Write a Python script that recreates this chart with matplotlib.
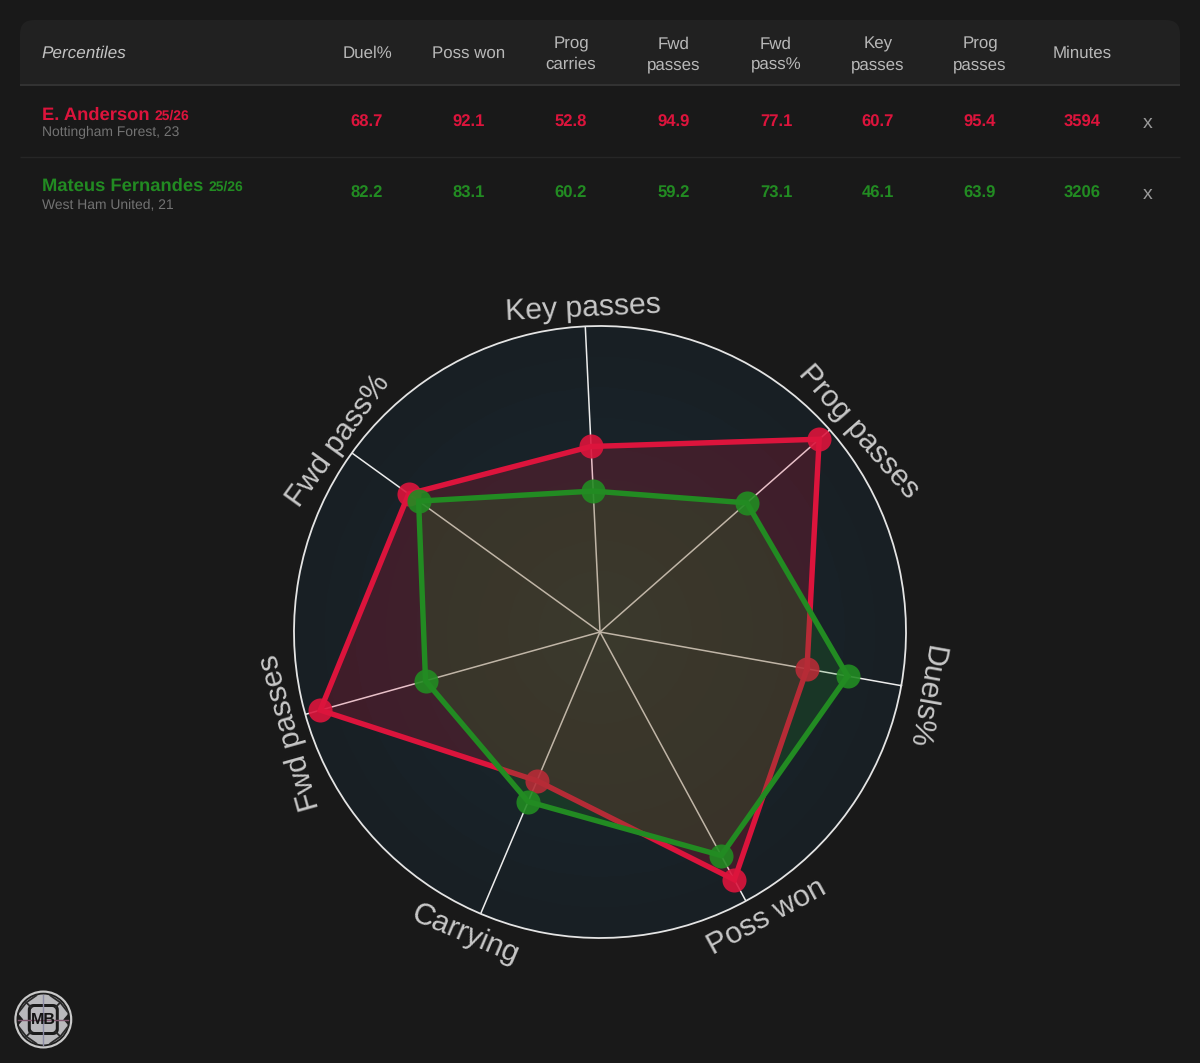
import numpy as np
import matplotlib
matplotlib.use('Agg')
import matplotlib.pyplot as plt
from matplotlib.patches import Circle, FancyBboxPatch, Rectangle, Polygon
from matplotlib.colors import LinearSegmentedColormap

plt.rcParams['font.family'] = ['Liberation Sans', 'DejaVu Sans']
plt.rcParams['text.hinting'] = 'none'

W, H = 1200, 1063
BG = '#191919'
RED = '#DC143C'
GREEN = '#228B22'

axis_labels = ['Duels%', 'Poss won', 'Carrying', 'Fwd passes', 'Fwd pass%', 'Key passes', 'Prog passes']
header_labels = ['Duel%', 'Poss won', 'Prog\ncarries', 'Fwd\npasses', 'Fwd\npass%', 'Key\npasses', 'Prog\npasses', 'Minutes']
red_values = [68.7, 92.1, 52.8, 94.9, 77.1, 60.7, 95.4]
green_values = [82.2, 83.1, 60.2, 59.2, 73.1, 46.1, 63.9]
red_minutes = 3594
green_minutes = 3206
players = [('E. Anderson', '25/26', 'Nottingham Forest, 23'), ('Mateus Fernandes', '25/26', 'West Ham United, 21')]

fig = plt.figure(figsize=(W / 100, H / 100), dpi=100, facecolor=BG)

# ---------- pixel overlay for the table ----------
tb = fig.add_axes([0, 0, 1, 1], zorder=1)
tb.set_xlim(0, W); tb.set_ylim(H, 0); tb.axis('off')

hdr = FancyBboxPatch((20, 20), 1160, 90, boxstyle='round,pad=0,rounding_size=14', fc='#212121', ec='none')
tb.add_patch(hdr)
hdr.set_clip_path(Rectangle((0, 0), W, 84, transform=tb.transData))
tb.plot([20, 1180], [84.5, 84.5], color='#333333', lw=1.4, solid_capstyle='butt')
tb.plot([20, 1180], [157, 157], color='#262626', lw=1.0, solid_capstyle='butt')

col_x = [367, 469, 571, 674, 776, 878, 980, 1082]
tb.text(41.5, 53, 'Percentiles', fontsize=12.3, style='italic', color='#c2c2c2', ha='left', va='center')
for x, lab in zip(col_x, header_labels):
    y = 54.5 if '\n' in lab else 53
    tb.text(x, y, lab, fontsize=12.2, color='#b8b8b8', ha='center', va='center', linespacing=1.36)

rows = [(RED, red_values, red_minutes, 115, 132.5, 122), (GREEN, green_values, green_minutes, 186.5, 204.5, 193.5)]
for (col, vals, mins, yn, ys, yv), (name, season, sub) in zip(rows, players):
    t = tb.text(42, yn, name, fontsize=13.2, fontweight='bold', color=col, ha='left', va='center')
    fig.canvas.draw()
    bb = t.get_window_extent()
    tb.text(bb.x1 + 5, yn + 1, season, fontsize=10, fontweight='bold', color=col, ha='left', va='center')
    tb.text(42, ys, sub, fontsize=10, color='#737373', ha='left', va='center')
    for x, v in zip(col_x, list(vals) + [mins]):
        tb.text(x, yv, str(v), fontsize=12, fontweight='bold', color=col, ha='center', va='center')
    tb.text(1148, yv + 1, 'x', fontsize=14, color='#9a9a9a', ha='center', va='center')

# ---------- logo ----------
cx, cy = 43.3, 1019.5
tb.add_patch(Circle((cx, cy), 29, fc='#c9c9c9', ec='none'))
tb.add_patch(Circle((cx, cy), 26.8, fc='#1e1e1e', ec='none'))
tb.add_patch(Circle((cx, cy), 25, fc='#b9b9bc', ec='none'))
tb.plot([cx, cx], [cy - 25, cy + 25], color='#8c8ca6', lw=1.0)
tb.plot([cx - 25, cx + 25], [cy, cy], color='#80586f', lw=1.0)
for sx in (-1, 1):
    tb.add_patch(Polygon([(cx + sx * 26, cy - 7), (cx + sx * 26, cy + 7), (cx + sx * 20, cy)], fc='#1e1e1e', ec='none'))
    for sy in (-1, 1):
        tb.plot([cx + sx * 12, cx + sx * 17, cx + sx * 24], [cy + sy * 12, cy + sy * 17, cy + sy * 8], color='#2a2a2a', lw=1.3)
        tb.plot([cx + sx * 17, cx + sx * 7], [cy + sy * 17, cy + sy * 24], color='#2a2a2a', lw=1.3)
tb.add_patch(FancyBboxPatch((cx - 15.5, cy - 15.5), 31, 31, boxstyle='round,pad=0,rounding_size=6', fc='#1c1c1c', ec='none'))
tb.add_patch(FancyBboxPatch((cx - 12.5, cy - 12.5), 25, 25, boxstyle='round,pad=0,rounding_size=4', fc='#b9b9bc', ec='none'))
tb.text(cx, cy + 0.5, 'MB', fontsize=11.5, fontweight='bold', color='#151515', ha='center', va='center')

# ---------- radar ----------
R = 306
CX, CY = 600, 632
OFFSET = -10.1
ax = fig.add_axes([(CX - R) / W, (H - CY - R) / H, 2 * R / W, 2 * R / H], projection='polar', zorder=2)
ax.set_facecolor('none')
ax.set_theta_offset(np.radians(OFFSET))
ax.set_theta_direction(-1)
ax.set_ylim(0, 100)
ax.grid(False)
ax.set_xticks([]); ax.set_yticks([])
for s in ax.spines.values():
    s.set_color('#e4e4e4'); s.set_linewidth(1.3)

theta = np.arange(len(axis_labels)) * 2 * np.pi / len(axis_labels)

# radial background
cmap = LinearSegmentedColormap.from_list('bgd', ['#1b2a2d', '#1a272b', '#192429', '#182127', '#181f24'])
tt = np.linspace(0, 2 * np.pi, 181)
rr = np.linspace(0, 100, 11)
ax.pcolormesh(tt, rr, np.tile(rr[:-1][:, None], (1, 180)), cmap=cmap, shading='flat', zorder=0, rasterized=True)

for th in theta:
    ax.plot([th, th], [0, 100], color='#ececec', lw=1.1, zorder=1)

def closed(a):
    return np.r_[a, a[:1]]

# red goes down first, so the green fill tints the red marks that lie inside it
for i, (vals, col) in enumerate(((red_values, RED), (green_values, GREEN))):
    z = 2 + i * 3
    ax.fill(closed(theta), closed(vals), color=col, alpha=0.2, lw=0, zorder=z)
    ax.plot(closed(theta), closed(vals), color=col, lw=3.9, zorder=z + 1, solid_joinstyle='miter')
    ax.scatter(theta, vals, s=300, color=col, alpha=0.9, lw=0, zorder=z + 2, clip_on=False)

label_shift = [-1.2, 1.9, -1.1, 2.4, -0.4, 0.25, -3.6]
label_radius = [108.2, 107.8, 108.2, 106.5, 106.0, 106.0, 106.9]
for th, lab, sh, rad in zip(theta, axis_labels, label_shift, label_radius):
    m = (OFFSET - np.degrees(th)) % 360
    # labels follow the rim; the ones at the bottom are turned to stay readable
    rot = m + 90 if 225 < m < 315 else m - 90
    rot = (rot + 180) % 360 - 180
    ax.text(th - np.radians(sh), rad, lab, fontsize=21.7, color='#c8c8c8', rotation=rot,
            rotation_mode='anchor', ha='center', va='center', clip_on=False)

fig.savefig('out.png', dpi=100, facecolor=BG)
